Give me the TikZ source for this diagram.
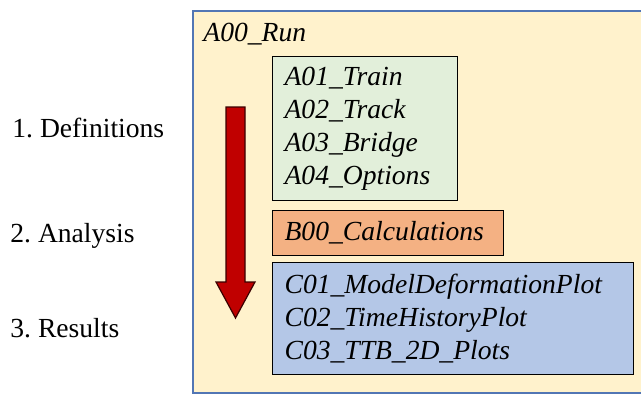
\documentclass[tikz,border=0pt]{standalone}
\usepackage{fontspec}
\setmainfont{LiberationSerif}[Extension=.ttf, UprightFont=*-Regular, ItalicFont=*-Italic, BoldFont=*-Bold, BoldItalicFont=*-BoldItalic]
\usetikzlibrary{positioning}
\frenchspacing

\definecolor{runfill}{HTML}{FFF2CC}
\definecolor{runline}{HTML}{5276B4}
\definecolor{defcol}{HTML}{E2EFDA}
\definecolor{calccol}{HTML}{F4B183}
\definecolor{rescol}{HTML}{B4C7E7}
\definecolor{arrowred}{HTML}{C00000}

\begin{document}
\begin{tikzpicture}[
			x=0.5pt, y=-0.5pt,
			every node/.style={font=\fontsize{13.8}{16.6}\selectfont},
			module/.style={rectangle, draw=black, line width=0.6pt, anchor=north west, align=left, inner xsep=6pt, font=\fontsize{13.8}{16.6}\selectfont\itshape},
			stage/.style={anchor=west, inner sep=0pt}
		]
		\useasboundingbox (0,0) rectangle (641,393);

		% outer run box
		\node[rectangle, draw=runline, fill=runfill, line width=0.8pt, anchor=north west, minimum width=230pt, minimum height=191pt, inner sep=0pt] (run) at (192,10) {};
		\node[anchor=north west, inner sep=0pt, font=\fontsize{13.8}{16.6}\selectfont\itshape] (runname) at (203,23) {A00\_Run};

		% modules
		\node[module, fill=defcol, minimum width=92.5pt, minimum height=72pt, text width=80.5pt] (defs) at (272,56) {A01\_Train\\A02\_Track\\A03\_Bridge\\A04\_Options};
		\node[module, fill=calccol, minimum width=115.5pt, minimum height=22.5pt, text width=103.5pt] (calc) at (272,210) {B00\_Calculations};
		\node[module, fill=rescol, minimum width=180.5pt, minimum height=56pt, text width=168.5pt] (res) at (272,262) {C01\_ModelDeformationPlot\\C02\_TimeHistoryPlot\\C03\_TTB\_2D\_Plots};

		% stages
		\node[stage] (s1) at (12,128) {1. Definitions};
		\node[stage] (s2) at (10,236) {2. Analysis};
		\node[stage] (s3) at (10,328) {3. Results};

		% flow arrow
		\draw[draw=black!70!arrowred, fill=arrowred, line width=0.6pt, line join=miter]
			(226,107) -- (245,107) -- (245,282) -- (255,282) -- (235.5,318) -- (216,282) -- (226,282) -- cycle;
	\end{tikzpicture}
\end{document}
